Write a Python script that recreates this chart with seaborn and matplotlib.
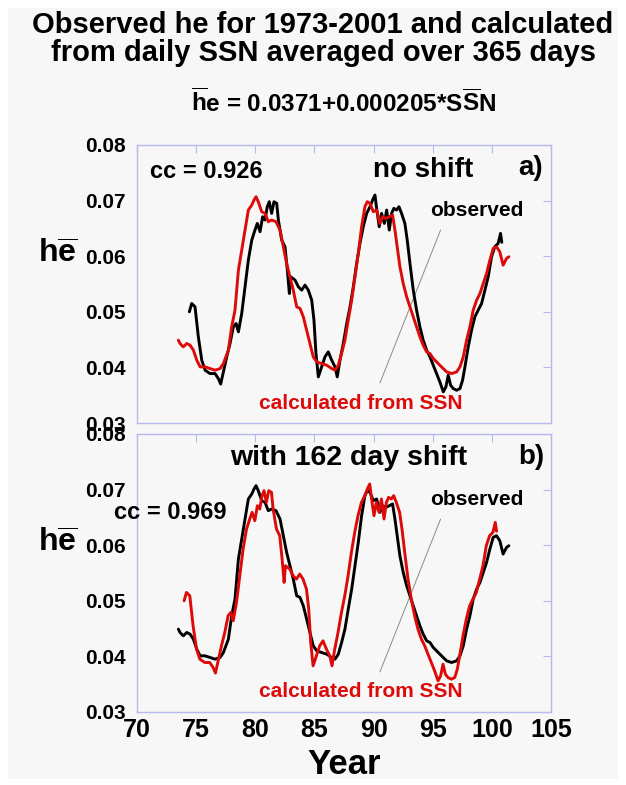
import numpy as np
import matplotlib
matplotlib.use('Agg')
from matplotlib import pyplot as plt
import matplotlib.patches as mpatches
import seaborn as sns

# observed he (365-day running mean), year since 1900
obs_year = [74.42, 74.62, 74.90, 75.18, 75.47, 75.75, 76.17, 76.59, 76.87, 77.07,
            77.30, 77.58, 77.86, 78.14, 78.37, 78.57, 78.85, 79.13, 79.41, 79.70,
            79.97, 80.17, 80.40, 80.62, 80.82, 81.01, 81.18, 81.38, 81.58, 81.81,
            81.95, 82.23, 82.51, 82.71, 82.88, 82.99, 83.36, 83.64, 83.92, 84.20,
            84.48, 84.77, 84.96, 85.13, 85.33, 85.61, 85.89, 86.17, 86.46, 86.74,
            86.93, 87.16, 87.44, 87.73, 88.01, 88.29, 88.57, 88.85, 89.13, 89.42,
            89.70, 89.92, 90.12, 90.26, 90.48, 90.68, 90.91, 91.11, 91.33, 91.53,
            91.72, 91.95, 92.15, 92.37, 92.65, 92.85, 93.08, 93.36, 93.64, 93.92,
            94.20, 94.49, 94.77, 95.05, 95.33, 95.61, 95.90, 96.12, 96.32, 96.52,
            96.74, 97.03, 97.31, 97.53, 97.73, 98.01, 98.29, 98.57, 98.85, 99.14,
            99.42, 99.70, 99.98, 100.26, 100.54, 100.74, 100.85]
obs_he = [0.0500, 0.0515, 0.0509, 0.0455, 0.0413, 0.0395, 0.0389, 0.0389, 0.0380, 0.0370,
          0.0392, 0.0419, 0.0443, 0.0473, 0.0479, 0.0464, 0.0497, 0.0545, 0.0593, 0.0629,
          0.0647, 0.0659, 0.0644, 0.0671, 0.0665, 0.0689, 0.0698, 0.0677, 0.0698, 0.0695,
          0.0665, 0.0629, 0.0617, 0.0575, 0.0533, 0.0563, 0.0557, 0.0545, 0.0539, 0.0548,
          0.0539, 0.0521, 0.0485, 0.0425, 0.0383, 0.0401, 0.0419, 0.0428, 0.0413, 0.0401,
          0.0383, 0.0413, 0.0443, 0.0479, 0.0509, 0.0545, 0.0587, 0.0623, 0.0653, 0.0677,
          0.0689, 0.0701, 0.0710, 0.0686, 0.0653, 0.0677, 0.0659, 0.0683, 0.0647, 0.0677,
          0.0686, 0.0683, 0.0689, 0.0677, 0.0659, 0.0629, 0.0587, 0.0539, 0.0503, 0.0473,
          0.0449, 0.0431, 0.0419, 0.0404, 0.0389, 0.0374, 0.0356, 0.0365, 0.0386, 0.0368,
          0.0362, 0.0359, 0.0362, 0.0377, 0.0401, 0.0437, 0.0467, 0.0491, 0.0503, 0.0515,
          0.0539, 0.0563, 0.0599, 0.0617, 0.0623, 0.0641, 0.0625]

# he calculated from daily SSN averaged over 365 days
calc_year = [73.49, 73.63, 73.91, 74.20, 74.48, 74.76, 75.05, 75.33, 75.75, 76.17,
             76.59, 77.02, 77.30, 77.72, 78.00, 78.28, 78.57, 78.85, 79.13, 79.41,
             79.70, 79.89, 80.06, 80.25, 80.54, 80.82, 81.10, 81.38, 81.75, 82.09,
             82.37, 82.65, 82.93, 83.21, 83.50, 83.78, 84.06, 84.34, 84.62, 84.90,
             85.19, 85.61, 86.04, 86.46, 86.74, 87.02, 87.30, 87.58, 87.86, 88.15,
             88.43, 88.71, 88.99, 89.27, 89.47, 89.70, 89.98, 90.26, 90.54, 90.76,
             91.05, 91.33, 91.61, 91.81, 92.00, 92.23, 92.51, 92.80, 93.08, 93.36,
             93.64, 93.92, 94.20, 94.49, 94.77, 95.05, 95.33, 95.75, 96.18, 96.60,
             97.03, 97.31, 97.59, 97.87, 98.15, 98.43, 98.72, 99.00, 99.28, 99.56,
             99.84, 100.12, 100.40, 100.68, 100.96, 101.25, 101.45]
calc_he = [0.0449, 0.0443, 0.0437, 0.0443, 0.0440, 0.0431, 0.0413, 0.0401, 0.0401, 0.0398,
           0.0395, 0.0398, 0.0407, 0.0431, 0.0473, 0.0503, 0.0575, 0.0611, 0.0647, 0.0683,
           0.0692, 0.0701, 0.0707, 0.0698, 0.0680, 0.0677, 0.0662, 0.0665, 0.0662, 0.0647,
           0.0617, 0.0587, 0.0563, 0.0539, 0.0509, 0.0506, 0.0491, 0.0467, 0.0443, 0.0419,
           0.0410, 0.0407, 0.0404, 0.0398, 0.0395, 0.0404, 0.0425, 0.0449, 0.0485, 0.0521,
           0.0563, 0.0605, 0.0653, 0.0689, 0.0698, 0.0695, 0.0680, 0.0683, 0.0659, 0.0671,
           0.0668, 0.0671, 0.0674, 0.0647, 0.0617, 0.0581, 0.0551, 0.0527, 0.0509, 0.0491,
           0.0473, 0.0455, 0.0440, 0.0428, 0.0425, 0.0416, 0.0410, 0.0401, 0.0392, 0.0389,
           0.0392, 0.0401, 0.0419, 0.0449, 0.0473, 0.0503, 0.0521, 0.0533, 0.0551, 0.0569,
           0.0593, 0.0614, 0.0617, 0.0608, 0.0584, 0.0596, 0.0599]

shift_days = 162
year_ticks = [70, 75, 80, 85, 90, 95, 100, 105]
he_ticks = [0.03, 0.04, 0.05, 0.06, 0.07, 0.08]

sns.set_style('white')
plt.rcParams['font.family'] = ['Liberation Sans', 'DejaVu Sans']
plt.rcParams['mathtext.fontset'] = 'custom'
plt.rcParams['mathtext.rm'] = 'Liberation Sans:bold'
plt.rcParams['mathtext.bf'] = 'Liberation Sans:bold'
for key in ['text.color', 'axes.labelcolor', 'xtick.labelcolor', 'ytick.labelcolor']:
    plt.rcParams[key] = 'black'

bg = '#f7f7f7'
frame = '#b8b8f0'
red = '#dd0a0a'

fig = plt.figure(figsize=(6.26, 7.85), dpi=100, facecolor='white')
fig.patches.append(mpatches.Rectangle((0.013, 0.008), 0.975, 0.982, transform=fig.transFigure,
                                      facecolor=bg, edgecolor='none', zorder=-10))

ax_a = fig.add_axes([0.219, 0.4611, 0.661, 0.3542])
ax_b = fig.add_axes([0.219, 0.0930, 0.661, 0.3542])

shift = shift_days / 365.25
obs_year_shifted = [y - shift for y in obs_year]

panels = [
    (ax_a, obs_year, obs_he, 'black', calc_year, calc_he, red),
    (ax_b, calc_year, calc_he, 'black', obs_year_shifted, obs_he, red),
]
for ax, x1, y1, c1, x2, y2, c2 in panels:
    ax.set_facecolor(bg)
    # pointer line from "observed" to the curves
    ax.plot([95.67, 90.54], [0.0647, 0.0372], color='#8a8a8a', lw=0.7, zorder=1)
    sns.lineplot(x=x1, y=y1, ax=ax, color=c1, lw=2.1, estimator=None, sort=False, zorder=3)
    sns.lineplot(x=x2, y=y2, ax=ax, color=c2, lw=2.1, estimator=None, sort=False, zorder=4)
    ax.set_xlim(70, 105)
    ax.set_ylim(0.03, 0.08)
    ax.set_xticks(year_ticks)
    ax.set_yticks(he_ticks)
    ax.set_yticklabels(['%.2f' % v for v in he_ticks], fontsize=15, fontweight='bold')
    ax.tick_params(direction='in', length=6, width=0.8, color=frame, top=True, right=True,
                   pad=8)
    for s in ax.spines.values():
        s.set_color(frame)
        s.set_linewidth(1.0)
    ax.set_xlabel('')
    ax.set_ylabel(r'$\mathbf{h\overline{e}}$', fontsize=23, rotation=0, va='center', ha='center')
    ax.yaxis.set_label_coords(-0.193, 0.603)
    ax.text(0.821, 0.763, 'observed', transform=ax.transAxes, ha='center', va='center',
            fontsize=15, fontweight='bold', color='black')
    ax.text(0.541, 0.072, 'calculated from SSN', transform=ax.transAxes, ha='center',
            va='center', fontsize=15, fontweight='bold', color=red)

ax_a.tick_params(axis='x', labelbottom=False)
ax_b.set_xticklabels([str(t) for t in year_ticks], fontsize=18, fontweight='bold')
ax_b.tick_params(axis='x', pad=4)
ax_b.set_xlabel('Year', fontsize=25, fontweight='bold', labelpad=5)

ax_a.text(0.031, 0.903, 'cc = 0.926', transform=ax_a.transAxes, ha='left', va='center',
          fontsize=17, fontweight='bold')
ax_a.text(0.691, 0.910, 'no shift', transform=ax_a.transAxes, ha='center', va='center',
          fontsize=20, fontweight='bold')
ax_a.text(0.952, 0.917, 'a)', transform=ax_a.transAxes, ha='center', va='center',
          fontsize=20, fontweight='bold')

ax_b.text(0.512, 0.914, 'with 162 day shift', transform=ax_b.transAxes, ha='center',
          va='center', fontsize=20.5, fontweight='bold')
ax_b.text(0.952, 0.917, 'b)', transform=ax_b.transAxes, ha='center', va='center',
          fontsize=20, fontweight='bold')
ax_b.text(-0.056, 0.716, 'cc = 0.969', transform=ax_b.transAxes, ha='left', va='center',
          fontsize=17, fontweight='bold')

fig.text(0.516, 1 - 39 / 785, 'Observed he for 1973-2001 and calculated\nfrom daily SSN averaged over 365 days',
         ha='center', va='center', fontsize=21, fontweight='bold', linespacing=1.0)
fig.text(0.548, 1 - 103 / 785,
         r'$\overline{\mathrm{h}}$e = 0.0371+0.000205*S$\overline{\mathrm{S}}$N',
         ha='center', va='center', fontsize=17.5, fontweight='bold')

fig.savefig('out.png', dpi=100, facecolor='white')
